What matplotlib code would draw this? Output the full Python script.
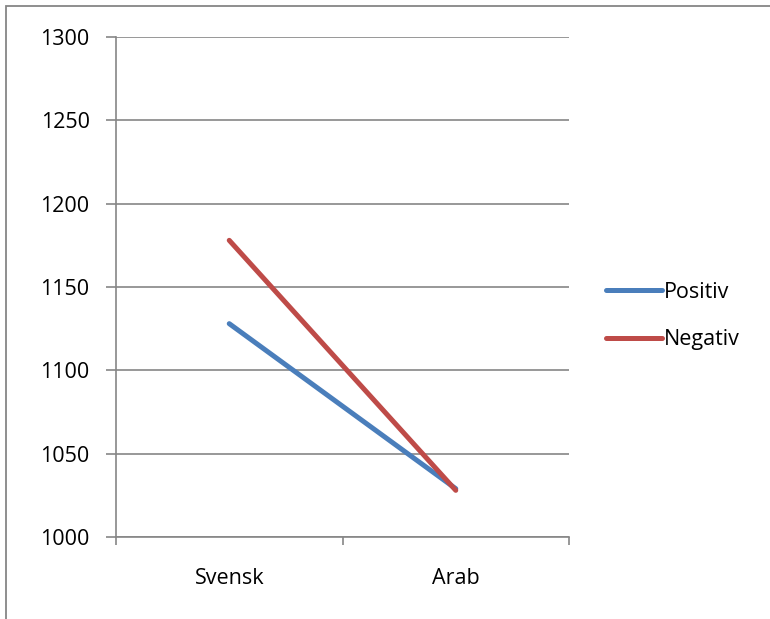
import matplotlib
matplotlib.use("Agg")
import matplotlib.pyplot as plt
from matplotlib.patches import Rectangle

categories = ["Svensk", "Arab"]
positiv = [1128, 1029]
negativ = [1178, 1028]
yticks = [1000, 1050, 1100, 1150, 1200, 1250, 1300]

plt.rcParams['font.family'] = ['Open Sans', 'DejaVu Sans']
grid_c = '#868686'

fig = plt.figure(figsize=(7.70, 6.19), dpi=100)
ax = fig.add_axes([116/770, 1-537/619, (569-116)/770, (537-37)/619])

x = list(range(len(categories)))
ax.plot(x, positiv, color='#4A7EBB', lw=3.6, solid_capstyle='round', label='Positiv', zorder=3)
ax.plot(x, negativ, color='#BE4B48', lw=3.6, solid_capstyle='round', label='Negativ', zorder=4)

ax.set_xlim(-0.5, len(categories)-0.5)
ax.set_ylim(1000, 1300)
ax.set_yticks(yticks)
ax.set_yticklabels([str(v) for v in yticks], fontsize=15.5)
ax.yaxis.grid(True, color=grid_c, lw=1.2)
ax.set_axisbelow(True)

ax.set_xticks(x)
ax.set_xticklabels(categories, fontsize=15.5)
ax.tick_params(axis='x', length=0, pad=22)
ax.set_xticks([-0.5, 0.5, 1.5], minor=True)
ax.tick_params(axis='x', which='minor', length=6, width=1.2, color=grid_c, direction='out')
ax.tick_params(axis='y', length=7, width=1.2, color=grid_c, pad=12)

for s in ['top', 'right']:
    ax.spines[s].set_visible(False)
for s in ['left', 'bottom']:
    ax.spines[s].set_color(grid_c)
    ax.spines[s].set_linewidth(1.2)

leg = ax.legend(loc='center left', bbox_to_anchor=(606/770, 1-316/619),
                bbox_transform=fig.transFigure, frameon=False, fontsize=15.5,
                handlelength=2.6, handletextpad=0.1, labelspacing=1.25,
                borderaxespad=0, borderpad=0)

fig.patches.append(Rectangle((6/770, -0.1), 2.0, 1-6/619+0.1, transform=fig.transFigure,
                             fill=False, edgecolor=grid_c, lw=1.3))

fig.savefig('out.png', dpi=100)
